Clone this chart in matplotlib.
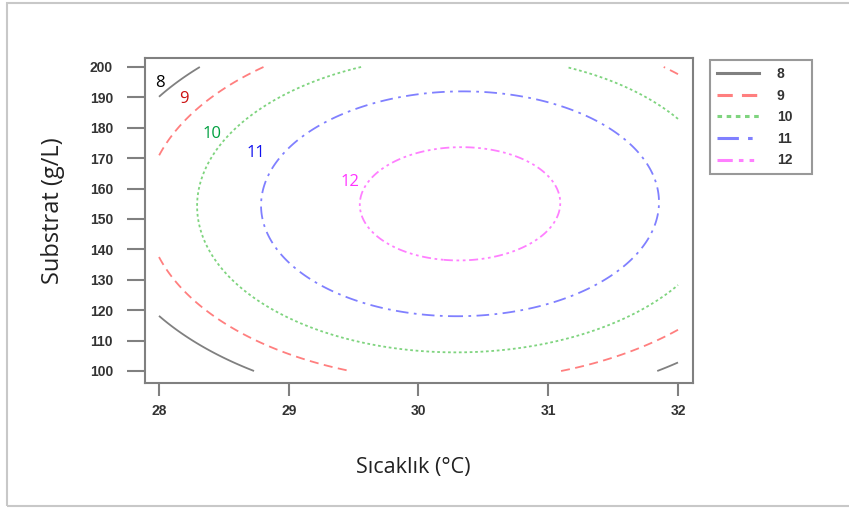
import numpy as np
import matplotlib.pyplot as plt
from matplotlib.lines import Line2D
from matplotlib.patches import Rectangle

# Response surface (quadratic model)
peak_value = 12.34
temp_center = 30.32
subs_center = 155.0
temp_curv = 0.57
subs_curv = 0.00098
interaction = 0.0007

levels = [8, 9, 10, 11, 12]
level_labels = ['8', '9', '10', '11', '12']
line_colors = ['#808080', '#ff7f7f', '#7fd47f', '#8080ff', '#ff80ff']
text_colors = ['#000000', '#cc1111', '#00a040', '#1111ee', '#ff33ff']
label_T = [28.01, 28.19, 28.41, 28.75, 29.47]
label_S = [194.8, 189.5, 178.0, 171.7, 162.2]
x_ticks = [28, 29, 30, 31, 32]
y_ticks = [100, 110, 120, 130, 140, 150, 160, 170, 180, 190, 200]

styles = ['-', (0, (5, 3)), (0, (1.5, 1.5)), (0, (7, 3, 1.5, 3)), (0, (5, 2, 1.5, 2, 1.5, 2))]

T = np.linspace(28, 32, 400)
S = np.linspace(100, 200, 400)
TT, SS = np.meshgrid(T, S)
dT = TT - temp_center
dS = SS - subs_center
Z = peak_value - temp_curv * dT**2 - subs_curv * dS**2 + interaction * dT * dS

fig = plt.figure(figsize=(8.49, 5.08), dpi=100)
fig.patches.append(Rectangle((6.5/849, 2.5/508), 1.0, 1 - 5/508, transform=fig.transFigure,
                             fill=False, edgecolor='#c8c8c8', lw=1.5, clip_on=False))
ax = fig.add_axes([145/849, 1 - 383/508, 548/849, 325/508])

ax.contour(TT, SS, Z, levels=levels, colors=line_colors, linestyles=styles, linewidths=1.3)

for i in range(len(levels)):
    ax.text(label_T[i], label_S[i], level_labels[i], color=text_colors[i], fontsize=12,
            ha='center', va='center', family=['Open Sans', 'DejaVu Sans'])

ax.set_xlim(28 - 14/129.75, 32 + 15/129.75)
ax.set_ylim(100 - 12/3.04, 200 + 9/3.04)
ax.set_xticks(x_ticks)
ax.set_yticks(y_ticks)
tick_font = ['Liberation Sans Narrow', 'Liberation Sans', 'DejaVu Sans']
ax.set_xticklabels([str(v) for v in x_ticks], family=tick_font, fontweight='bold', fontsize=10, color='#333333')
ax.set_yticklabels([str(v) for v in y_ticks], family=tick_font, fontweight='bold', fontsize=10, color='#333333')
ax.tick_params(axis='y', length=13, width=1.5, color='#808080', pad=10)
ax.tick_params(axis='x', length=9, width=1.5, color='#808080', pad=6)
for sp in ax.spines.values():
    sp.set_color('#808080')
    sp.set_linewidth(1.5)

fig.text(413/849, 1 - 467/508, 'Sıcaklık (°C)', ha='center', va='center', fontsize=15.5,
         family=['Open Sans', 'DejaVu Sans'], color='#222222')
fig.text(53/849, 1 - 211/508, 'Substrat (g/L)', ha='center', va='center', rotation=90, fontsize=17,
         family=['Open Sans', 'DejaVu Sans'], color='#222222')

handles = [Line2D([], [], color=line_colors[i], linestyle=styles[i], lw=2.2) for i in range(len(levels))]
leg = ax.legend(handles, level_labels, loc='upper left',
                bbox_to_anchor=(710/849, 1 - 172/508, 102/849, 112/508), mode='expand',
                bbox_transform=fig.transFigure, borderaxespad=0, handlelength=3.0, fancybox=False,
                frameon=True, prop={'family': tick_font, 'weight': 'bold', 'size': 10},
                labelspacing=0.55, handletextpad=1.3, borderpad=0.5)
leg.get_frame().set_edgecolor('#808080')
leg.get_frame().set_linewidth(1.5)
for t in leg.get_texts():
    t.set_color('#333333')

fig.savefig('out.png', dpi=100)
